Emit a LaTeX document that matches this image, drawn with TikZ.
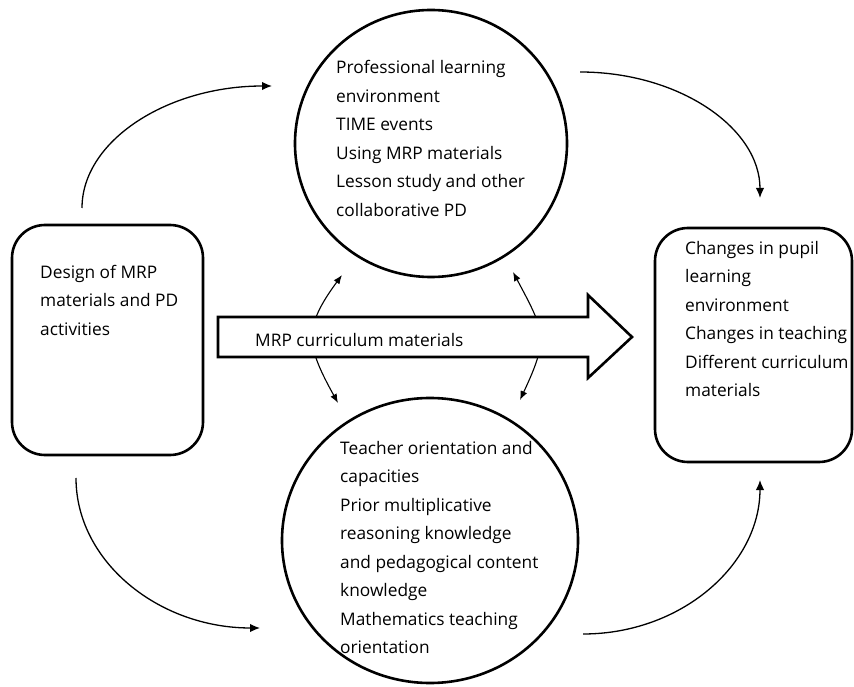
\documentclass[tikz,border=0pt]{standalone}
\usepackage{fontspec}
\setmainfont{Open Sans}
\usetikzlibrary{shapes.geometric,arrows.meta}

\begin{document}
\begin{tikzpicture}[x=1pt, y=1pt,
        stage/.style={draw, line width=2.6pt, rounded corners=33pt},
        blob/.style={draw, ellipse, line width=2.6pt, inner sep=0pt},
        txt/.style={anchor=west, align=left, inner sep=0pt, font=\fontsize{17.3}{28.5}\selectfont},
        loop/.style={line width=1.3pt, -{Latex[length=10pt,width=8.5pt]}},
        swap/.style={line width=1.1pt, {Latex[length=9pt,width=7pt]}-{Latex[length=9pt,width=7pt]}}]
    \useasboundingbox (0,0) rectangle (854,686);

    \node[stage, minimum width=191pt, minimum height=230pt] (design) at (107.5,346) {};
    \node[stage, minimum width=197pt, minimum height=234pt] (changes) at (753.5,341) {};
    \node[blob, minimum width=272pt, minimum height=267pt] (profl) at (431,542.5) {};
    \node[blob, minimum width=296pt, minimum height=285pt] (teacher) at (430,145.5) {};

    \node[txt] (design-txt) at (40,386) {Design of MRP\\materials and PD\\activities};
    \node[txt] (changes-txt) at (685,367) {Changes in pupil\\learning\\environment\\Changes in teaching\\Different curriculum\\materials};
    \node[txt] (profl-txt) at (336,547.5) {Professional learning\\environment\\TIME events\\Using MRP materials\\Lesson study and other\\collaborative PD};
    \node[txt] (teacher-txt) at (340,138.5) {Teacher orientation and\\capacities\\Prior multiplicative\\reasoning knowledge\\and pedagogical content\\knowledge\\Mathematics teaching\\orientation};

    % ends of the curved arrows
    \coordinate (d-up) at (82,478);
    \coordinate (p-in) at (272,600);
    \coordinate (p-out) at (580,614);
    \coordinate (c-top) at (760,488);
    \coordinate (d-down) at (76,208);
    \coordinate (t-in) at (260,58);
    \coordinate (t-out) at (583,52);
    \coordinate (c-bot) at (760,206);
    \coordinate (l-top) at (342,411);
    \coordinate (l-bot) at (338,283);
    \coordinate (r-top) at (513,414);
    \coordinate (r-bot) at (520,286);

    \draw[loop] (d-up) .. controls (82,545) and (167,600) .. (p-in);
    \draw[loop] (p-out) .. controls (679,614) and (760,558) .. (c-top);
    \draw[loop] (d-down) .. controls (76,125) and (158,58) .. (t-in);
    \draw[loop] (t-out) .. controls (681,52) and (760,121) .. (c-bot);

    \draw[swap] (l-top) .. controls (303,358) and (306,341) .. (l-bot);
    \draw[swap] (r-top) .. controls (545,354) and (549,348) .. (r-bot);

    \draw[line width=2.6pt, fill=white, line join=miter]
        (218,369) -- (588,369) -- (588,391) -- (632,349) -- (588,308) -- (588,329) -- (218,329) -- cycle;
    \node[txt] (flow-txt) at (255,346) {MRP curriculum materials};
\end{tikzpicture}
\end{document}
